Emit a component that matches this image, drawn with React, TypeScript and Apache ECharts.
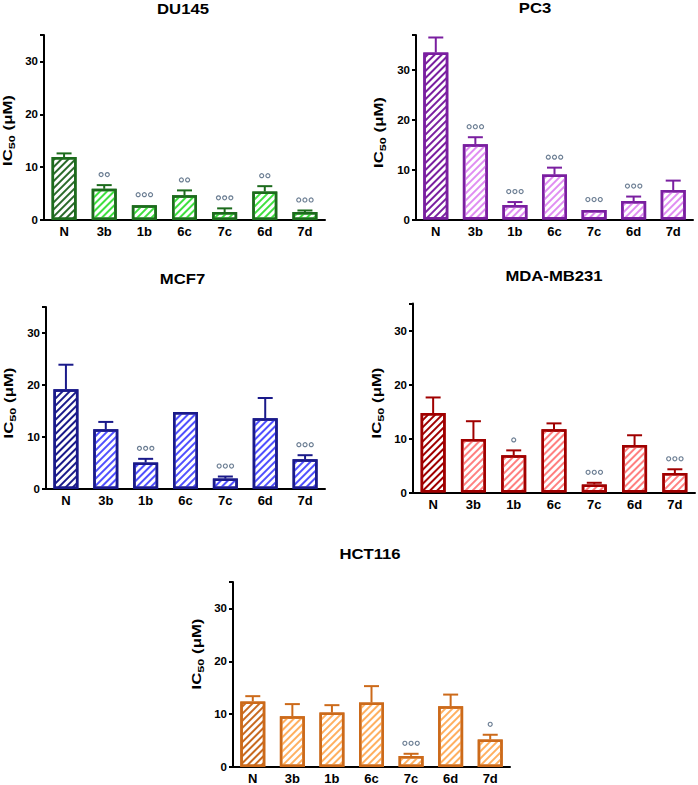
import React, { useEffect, useRef } from "react";
import * as echarts from "echarts";

const categories = ["N", "3b", "1b", "6c", "7c", "6d", "7d"];
const yTicks = [0, 10, 20, 30];

const du145Values = [11.9, 5.9, 2.8, 4.7, 1.5, 5.4, 1.5];
const du145Errors = [0.7, 0.7, 0, 0.9, 0.7, 1.0, 0.3];
const du145Marks = [0, 2, 3, 2, 3, 2, 3];

const pc3Values = [33.5, 15.1, 2.9, 9.0, 1.9, 3.7, 5.9];
const pc3Errors = [3.0, 1.4, 0.6, 1.4, 0, 0.9, 1.9];
const pc3Marks = [0, 3, 3, 3, 3, 3, 0];

const mcf7Values = [19.2, 11.5, 5.1, 14.8, 2.0, 13.6, 5.7];
const mcf7Errors = [4.7, 1.4, 0.7, 0, 0.4, 3.9, 0.8];
const mcf7Marks = [0, 0, 3, 0, 3, 0, 3];

const mdaValues = [14.7, 9.9, 6.9, 11.7, 1.5, 8.8, 3.6];
const mdaErrors = [2.9, 3.3, 0.9, 1.1, 0.3, 1.8, 0.7];
const mdaMarks = [0, 0, 1, 0, 3, 0, 3];

const hctValues = [12.4, 9.6, 10.3, 12.2, 2.1, 11.5, 5.2];
const hctErrors = [1.0, 2.3, 1.4, 3.1, 0.4, 2.2, 0.9];
const hctMarks = [0, 0, 0, 0, 3, 0, 1];

const FONT = 'Arial, "Liberation Sans", sans-serif';

const panels = [
  {
    title: "DU145", values: du145Values, errors: du145Errors, marks: du145Marks, max: 35,
    grid: { left: 44, top: 35, width: 281, height: 185 },
    titlePos: [183, 9], namePos: [8, 130.5],
    border: "#1c6b1c", dark: "#2a6a2a", light: "#3fe03f",
  },
  {
    title: "PC3", values: pc3Values, errors: pc3Errors, marks: pc3Marks, max: 37,
    grid: { left: 416, top: 35, width: 277, height: 184.5 },
    titlePos: [535, 8], namePos: [379, 132.5],
    border: "#7a1fa0", dark: "#7a1fa0", light: "#e08ef2",
  },
  {
    title: "MCF7", values: mcf7Values, errors: mcf7Errors, marks: mcf7Marks, max: 35,
    grid: { left: 46, top: 307, width: 279, height: 182 },
    titlePos: [182.5, 279], namePos: [9, 403],
    border: "#1a1a8a", dark: "#1a1a8a", light: "#5050ff",
  },
  {
    title: "MDA-MB231", values: mdaValues, errors: mdaErrors, marks: mdaMarks, max: 35,
    grid: { left: 413, top: 303.5, width: 282, height: 189 },
    titlePos: [554, 276], namePos: [377, 403],
    border: "#a00000", dark: "#a00000", light: "#ff8080",
  },
  {
    title: "HCT116", values: hctValues, errors: hctErrors, marks: hctMarks, max: 35,
    grid: { left: 233, top: 582, width: 277, height: 185 },
    titlePos: [370, 554], namePos: [197, 654],
    border: "#cc6a1a", dark: "#c86a20", light: "#ffb060",
  },
];

function decal(color: string) {
  return {
    symbol: "rect",
    symbolSize: 1,
    dashArrayX: [1, 0],
    dashArrayY: [1.4, 2.6],
    rotation: -Math.PI / 4,
    color,
  };
}

export default function App() {
  const ref = useRef<HTMLDivElement>(null);
  useEffect(() => {
    if (!ref.current) return;
    const chart = echarts.init(ref.current, undefined, { renderer: "svg" });
    const grids: any[] = [];
    const xAxes: any[] = [];
    const yAxes: any[] = [];
    const series: any[] = [];
    const graphics: any[] = [];

    panels.forEach((p, i) => {
      grids.push({ ...p.grid, containLabel: false });
      xAxes.push({
        type: "category",
        gridIndex: i,
        data: categories,
        axisLine: { lineStyle: { color: "#000", width: 2 } },
        axisTick: { alignWithLabel: true, length: 4, lineStyle: { color: "#000", width: 2 } },
        axisLabel: { color: "#000", fontSize: 13, fontWeight: "bold", fontFamily: FONT, margin: 5 },
        splitLine: { show: false },
      });
      yAxes.push({
        type: "value",
        gridIndex: i,
        min: 0,
        max: p.max,
        interval: 10,
        axisLine: { show: true, lineStyle: { color: "#000", width: 2 } },
        axisTick: { show: true, length: 4, lineStyle: { color: "#000", width: 2 } },
        axisLabel: {
          color: "#000", fontSize: 11.5, fontWeight: "bold", fontFamily: FONT, margin: 6,
          formatter: (v: number) => (yTicks.includes(v) ? String(v) : ""),
        },
        splitLine: { show: false },
      });
      series.push({
        type: "bar",
        xAxisIndex: i,
        yAxisIndex: i,
        barWidth: 25,
        z: 2,
        data: p.values.map((v, k) => ({
          value: v,
          itemStyle: {
            color: "#ffffff",
            borderColor: p.border,
            borderWidth: 2.5,
            decal: decal(k === 0 ? p.dark : p.light),
          },
        })),
      });
      series.push({
        type: "custom",
        xAxisIndex: i,
        yAxisIndex: i,
        z: 1,
        encode: { x: 0, y: 2 },
        data: p.values.map((v, k) => [k, v, v + p.errors[k]]),
        renderItem: (params: any, api: any) => {
          const idx = api.value(0);
          const v = api.value(1);
          const e = api.value(2);
          if (e <= v) return null;
          const a = api.coord([idx, v]);
          const b = api.coord([idx, e]);
          const style = { stroke: p.border, lineWidth: 2 };
          return {
            type: "group",
            children: [
              { type: "line", shape: { x1: a[0], y1: a[1], x2: b[0], y2: b[1] }, style },
              { type: "line", shape: { x1: b[0] - 7.5, y1: b[1], x2: b[0] + 7.5, y2: b[1] }, style },
            ],
          };
        },
      });
      series.push({
        type: "custom",
        xAxisIndex: i,
        yAxisIndex: i,
        z: 3,
        encode: { x: 0, y: 1 },
        data: p.values.map((v, k) => [k, v + p.errors[k], p.marks[k]]),
        renderItem: (params: any, api: any) => {
          const idx = api.value(0);
          const top = api.value(1);
          const n = api.value(2);
          if (!n) return null;
          const c = api.coord([idx, top]);
          const children: any[] = [];
          for (let j = 0; j < n; j++) {
            children.push({
              type: "circle",
              shape: { cx: c[0] + (j - (n - 1) / 2) * 6.2, cy: c[1] - 10.5, r: 2 },
              style: { fill: "#ffffff", stroke: "#6d7f94", lineWidth: 1.2 },
            });
          }
          return { type: "group", children };
        },
      });
      graphics.push({
        type: "text",
        x: p.titlePos[0],
        y: p.titlePos[1],
        scaleX: 1.15,
        style: {
          text: p.title,
          fill: "#000",
          fontSize: 14.5,
          fontWeight: "bold",
          fontFamily: FONT,
          align: "center",
          verticalAlign: "middle",
        },
      });
      graphics.push({
        type: "text",
        x: p.namePos[0],
        y: p.namePos[1],
        rotation: Math.PI / 2,
        scaleX: 1.4,
        style: {
          text: "{a|IC}{b|50}{a| (μM)}",
          fill: "#000",
          fontFamily: FONT,
          fontWeight: "bold",
          fontSize: 12,
          align: "center",
          verticalAlign: "middle",
          rich: {
            a: { fontSize: 12, fontWeight: "bold", fontFamily: FONT, fill: "#000", lineHeight: 16, verticalAlign: "middle" },
            b: { fontSize: 9, fontWeight: "bold", fontFamily: FONT, fill: "#000", lineHeight: 9, verticalAlign: "bottom" },
          },
        },
      });
    });

    chart.setOption({
      animation: false,
      backgroundColor: "#ffffff",
      grid: grids,
      xAxis: xAxes,
      yAxis: yAxes,
      series,
      graphic: graphics,
    });
    return () => chart.dispose();
  }, []);
  return <div ref={ref} style={{ position: "absolute", left: 0, top: 0, width: 698, height: 785 }} />;
}
